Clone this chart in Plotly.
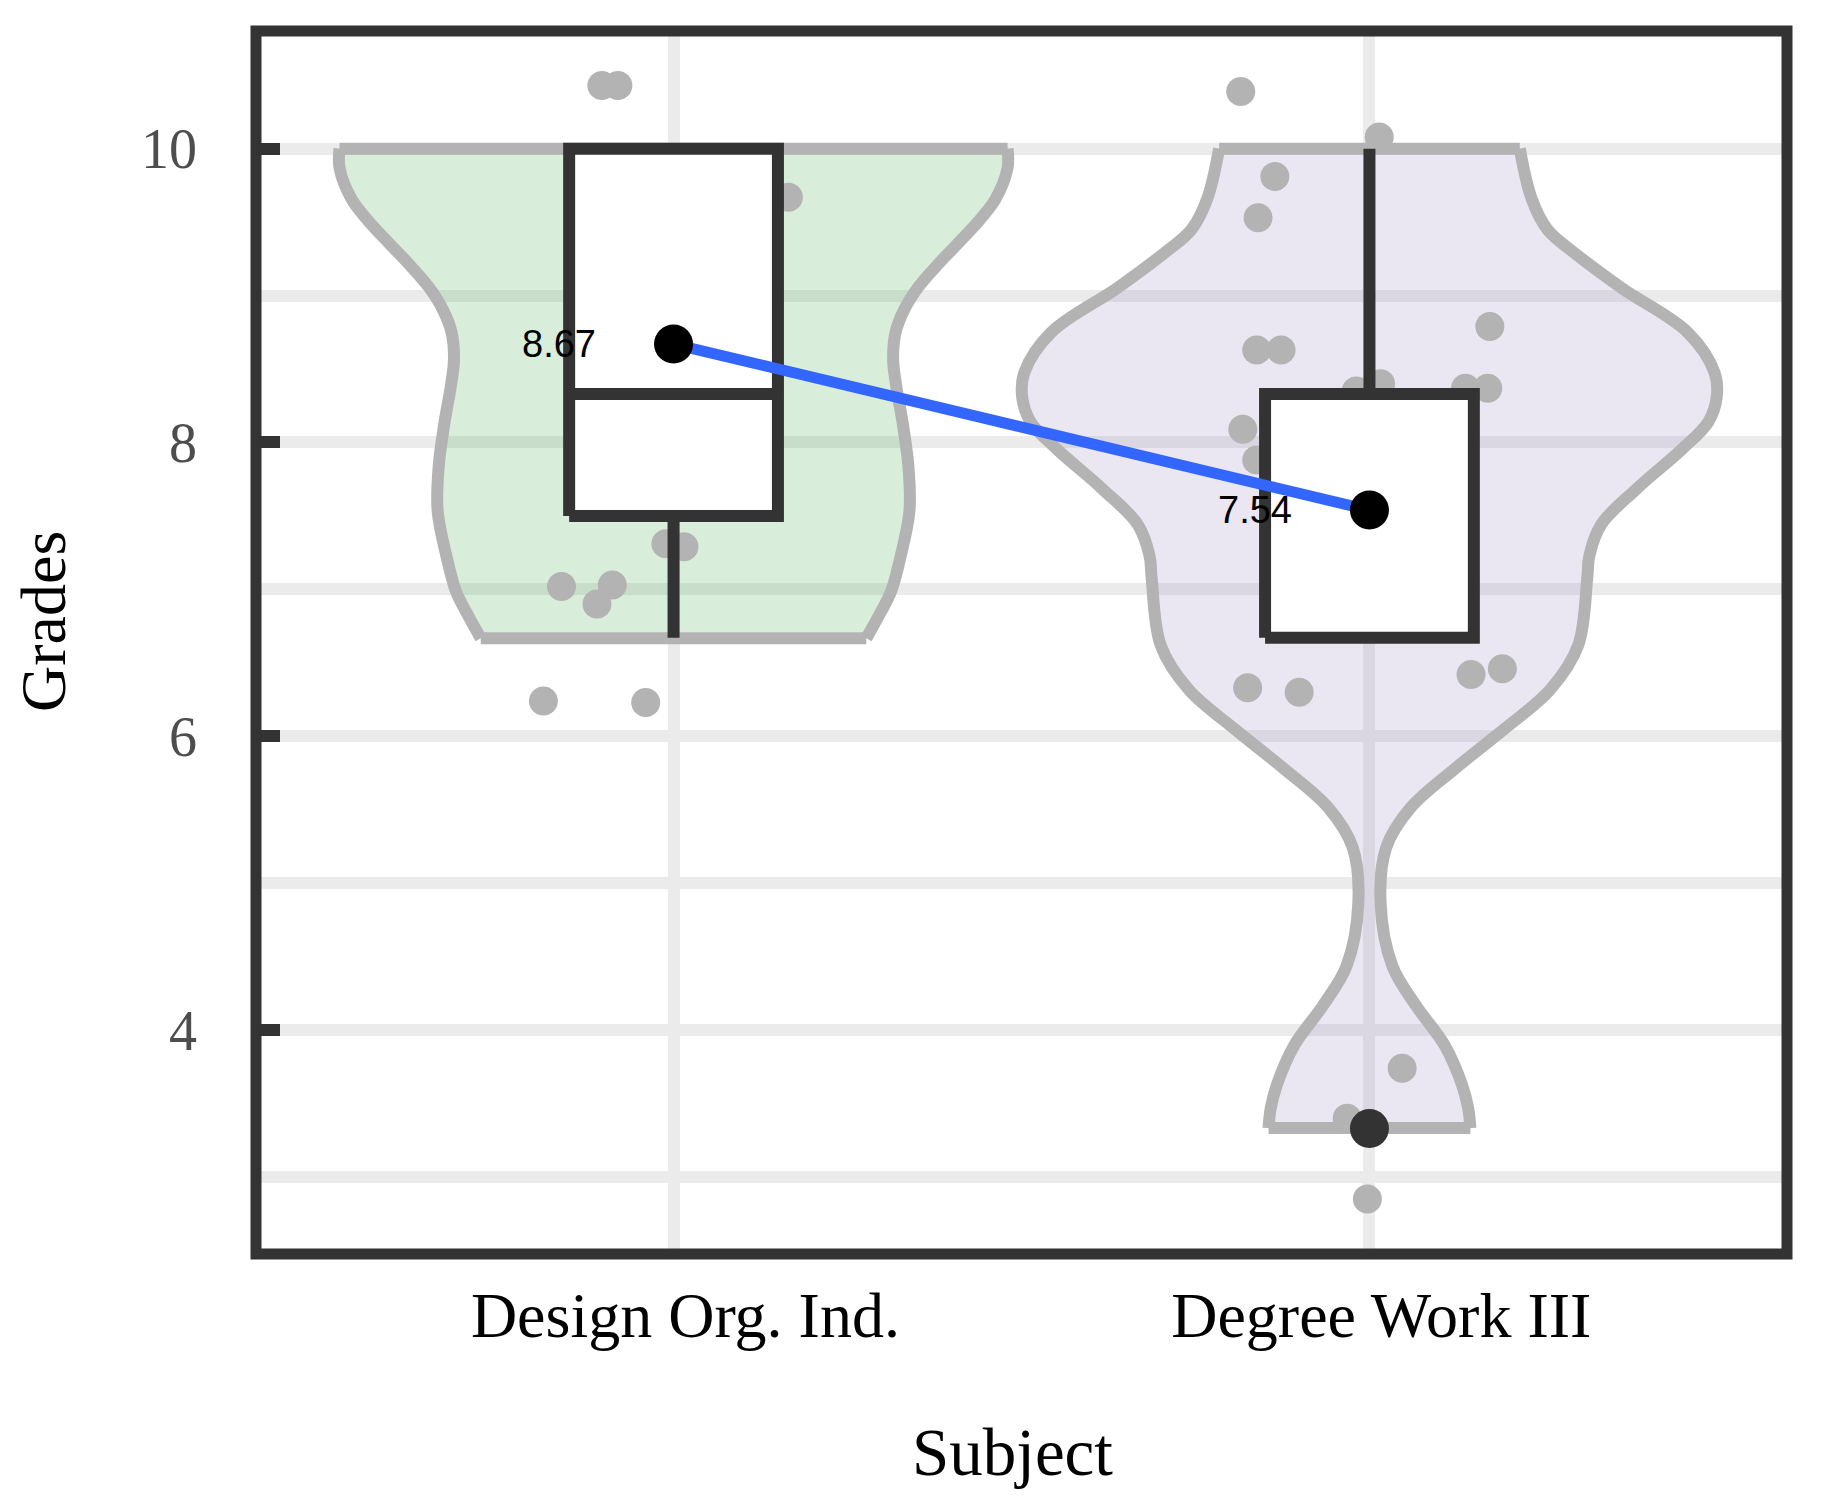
import plotly.graph_objects as go

# ---------------- data ----------------
categories = ["Design Org. Ind.", "Degree Work III"]
means = [8.67, 7.54]

# box statistics
q1 = [7.5, 6.67]
median = [8.33, 8.33]
q3 = [10.0, 8.33]
lowerfence = [6.67, 6.67]
upperfence = [10.0, 10.0]
outlier_cat = [1]
outlier_val = [3.33]

# jittered observations: horizontal jitter offset from the category, grade (jittered)
pts1_dx = [-0.103, -0.080, 0.165, -0.011, 0.015, -0.161, -0.088, -0.110, -0.187, -0.040]
pts1_y = [10.43, 10.43, 9.67, 7.31, 7.29, 7.02, 7.03, 6.90, 6.24, 6.23]
pts2_dx = [-0.185, 0.014, -0.136, -0.160, 0.173, -0.162, -0.127, -0.019, 0.016,
           0.138, 0.170, -0.182, -0.162, -0.175, -0.101, 0.146, 0.191, 0.047, -0.032, -0.003]
pts2_y = [10.39, 10.08, 9.81, 9.53, 8.79, 8.63, 8.63, 8.35, 8.40,
          8.37, 8.37, 8.09, 7.88, 6.33, 6.30, 6.42, 6.46, 3.74, 3.40, 2.85]

# violin density profiles (grade, half-width in category units)
vio1_y = [10.0, 9.87, 9.66, 9.51, 9.357, 9.205, 9.053, 8.90, 8.749, 8.566, 8.384,
          8.14, 7.837, 7.533, 7.229, 6.986, 6.834, 6.667]
vio1_hw = [0.480, 0.480, 0.463, 0.439, 0.409, 0.3785, 0.351, 0.331, 0.319, 0.3155, 0.320,
           0.329, 0.3375, 0.339, 0.3265, 0.3126, 0.2965, 0.277]
vio2_y = [10.0, 9.66, 9.448, 9.296, 9.053, 8.749, 8.475, 8.308, 8.141, 7.958, 7.685,
          7.442, 7.229, 7.078, 6.62, 6.319, 6.05, 5.78, 5.511, 5.242, 4.865, 4.435,
          4.166, 3.897, 3.628, 3.466, 3.333]
vio2_hw = [0.216, 0.233, 0.256, 0.293, 0.362, 0.4575, 0.496, 0.499, 0.487, 0.450, 0.384,
           0.333, 0.316, 0.313, 0.300, 0.260, 0.194, 0.123, 0.0586, 0.024, 0.016, 0.033,
           0.067, 0.108, 0.133, 0.142, 0.145]

# ---------------- style ----------------
serif = "Liberation Serif, Times New Roman, serif"
sans = "Liberation Sans, Arial, sans-serif"
dark = "#333333"
grey = "#b3b3b3"
grid = "#ebebeb"
vio_fills = ["rgba(65,170,70,0.2)", "rgba(155,135,190,0.2)"]
box_half = 0.15
label_shift = 0.017
label_gap = 0.108

fig = go.Figure()
xcat = list(range(len(categories)))

# violins: fill polygon + smooth outline
for i, (vy, vhw) in enumerate([(vio1_y, vio1_hw), (vio2_y, vio2_hw)]):
    rx = [i + w for w in vhw]
    lx = [i - w for w in vhw]
    fig.add_trace(go.Scatter(
        x=rx + lx[::-1], y=list(vy) + list(vy)[::-1], mode="lines",
        fill="toself", fillcolor=vio_fills[i], line=dict(width=0),
        hoverinfo="skip", showlegend=False))
    ox = rx + [None] + lx + [None] + [lx[0], rx[0]] + [None] + [lx[-1], rx[-1]]
    oy = list(vy) + [None] + list(vy) + [None] + [vy[0], vy[0]] + [None] + [vy[-1], vy[-1]]
    fig.add_trace(go.Scatter(
        x=ox, y=oy, mode="lines", connectgaps=False,
        line=dict(color=grey, width=12, shape="spline", smoothing=1),
        hoverinfo="skip", showlegend=False))

# jittered points
for i, (dx, py) in enumerate([(pts1_dx, pts1_y), (pts2_dx, pts2_y)]):
    fig.add_trace(go.Scatter(
        x=[i + d for d in dx], y=py, mode="markers",
        marker=dict(size=29, color=grey, line=dict(width=0)),
        showlegend=False))

# boxplots (whiskers, box, median)
for i in xcat:
    wx, wy = [], []
    if upperfence[i] > q3[i]:
        wx += [i, i, None]
        wy += [q3[i], upperfence[i], None]
    if lowerfence[i] < q1[i]:
        wx += [i, i, None]
        wy += [lowerfence[i], q1[i], None]
    if wx:
        fig.add_trace(go.Scatter(x=wx, y=wy, mode="lines", connectgaps=False,
                                 line=dict(color=dark, width=12), showlegend=False))
    fig.add_trace(go.Scatter(
        x=[i - box_half, i + box_half, i + box_half, i - box_half, i - box_half],
        y=[q1[i], q1[i], q3[i], q3[i], q1[i]],
        mode="lines", fill="toself", fillcolor="white",
        line=dict(color=dark, width=12), showlegend=False))
    fig.add_trace(go.Scatter(
        x=[i - box_half, i + box_half], y=[median[i], median[i]], mode="lines",
        line=dict(color=dark, width=12), showlegend=False))

# outlier
fig.add_trace(go.Scatter(
    x=outlier_cat, y=outlier_val, mode="markers",
    marker=dict(size=39, color=dark, line=dict(width=0)), showlegend=False))

# mean line and points
fig.add_trace(go.Scatter(x=xcat, y=means, mode="lines",
                         line=dict(color="#3366FF", width=11), showlegend=False))
fig.add_trace(go.Scatter(x=xcat, y=means, mode="markers",
                         marker=dict(size=39, color="black", line=dict(width=0)),
                         showlegend=False))

for i, m in enumerate(means):
    fig.add_annotation(x=i - label_gap, y=m, text=f"{m:.2f}", showarrow=False,
                       xanchor="right", yanchor="middle",
                       font=dict(family=sans, size=38, color="black"))

# axis titles
fig.add_annotation(x=0.4938, y=-0.1619, xref="paper", yref="paper", text="Subject",
                   showarrow=False, xanchor="center", yanchor="middle",
                   font=dict(family=serif, size=67, color="black"))
fig.add_annotation(x=-0.1385, y=0.5176, xref="paper", yref="paper", text="Grades",
                   showarrow=False, xanchor="center", yanchor="middle", textangle=-90,
                   font=dict(family=serif, size=64, color="black"))

# frame
fig.add_shape(type="rect", xref="paper", yref="paper", x0=0, x1=1, y0=0, y1=1,
              line=dict(color=dark, width=11), layer="above")

fig.update_layout(
    width=1821, height=1504,
    margin=dict(l=248, r=42, t=23, b=258),
    paper_bgcolor="white", plot_bgcolor="white",
    showlegend=False,
    xaxis=dict(
        range=[-0.6, 1.6], tickvals=[c + label_shift for c in xcat], ticktext=categories,
        showgrid=False, zeroline=False, ticks="", showline=False,
        minor=dict(tickvals=xcat, showgrid=True, gridcolor=grid, gridwidth=12, ticks=""),
        tickfont=dict(family=serif, size=64, color="black"),
        ticklabelstandoff=18),
    yaxis=dict(
        range=[2.476, 10.801], tickvals=[4, 6, 8, 10],
        showgrid=True, gridcolor=grid, gridwidth=12, zeroline=False,
        ticks="inside", ticklen=24, tickwidth=12, tickcolor=dark, showline=False,
        minor=dict(tickvals=[3, 5, 7, 9], showgrid=True, gridcolor=grid,
                   gridwidth=12, ticks=""),
        tickfont=dict(family=serif, size=56, color="#4d4d4d"),
        ticklabelstandoff=58),
)

fig.write_html("out.html")
